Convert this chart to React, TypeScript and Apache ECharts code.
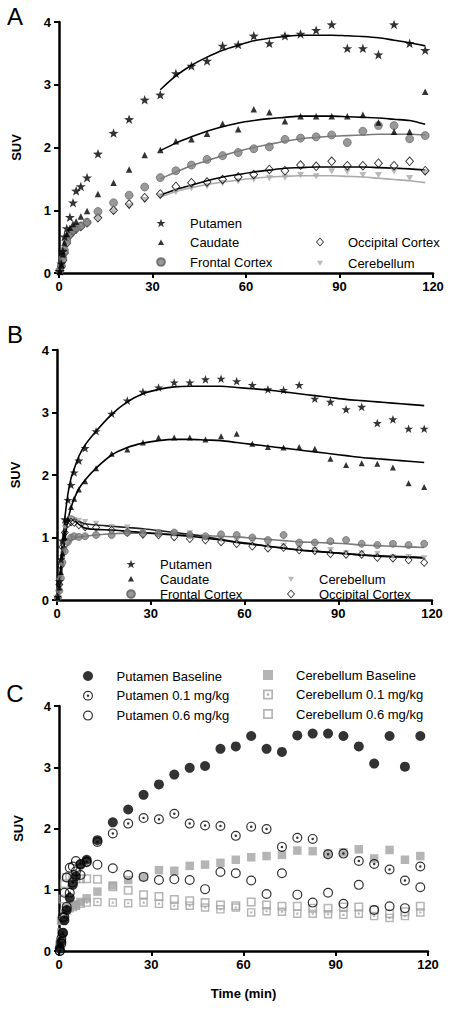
import React, { useEffect, useRef } from 'react';
import * as echarts from 'echarts';

// ---------- data ----------
const timeMin = [0.25, 0.75, 1.25, 1.75, 2.5, 3.5, 4.5, 5.5, 7, 9, 12.5, 17.5, 22.5, 27.5, 32.5, 37.5, 42.5, 47.5, 52.5, 57.5, 62.5, 67.5, 72.5, 77.5, 82.5, 87.5, 92.5, 97.5, 102.5, 107.5, 112.5, 117.5];
const fitTimeA = [32.5, 37.5, 42.5, 47.5, 52.5, 57.5, 62.5, 67.5, 72.5, 77.5, 82.5, 87.5, 92.5, 97.5, 102.5, 107.5, 112.5, 117.5];
const xTicks = [0, 30, 60, 90, 120];
const yTicks = [0, 1, 2, 3, 4];

// Panel A
const putamenA = [0.03, 0.15, 0.35, 0.58, 0.71, 0.89, 1.12, 1.31, 1.38, 1.52, 1.90, 2.23, 2.45, 2.76, 2.84, 3.18, 3.30, 3.38, 3.62, 3.64, 3.78, 3.66, 3.78, 3.81, 3.87, 3.96, 3.58, 3.58, 3.48, 3.96, 3.66, 3.55];
const caudateA = [0.02, 0.12, 0.30, 0.48, 0.62, 0.72, 0.78, 0.82, 0.90, 0.99, 1.26, 1.44, 1.65, 1.88, 1.96, 2.10, 2.13, 2.22, 2.38, 2.29, 2.61, 2.56, 2.42, 2.50, 2.50, 2.50, 2.50, 2.52, 2.40, 2.25, 2.25, 2.89];
const frontalA = [0.04, 0.12, 0.23, 0.36, 0.52, 0.63, 0.68, 0.72, 0.75, 0.81, 0.98, 1.12, 1.24, 1.37, 1.52, 1.63, 1.72, 1.81, 1.87, 1.92, 1.98, 2.01, 2.13, 2.15, 2.17, 2.20, 2.08, 2.26, 2.35, 2.35, 2.14, 2.19];
const occipitalA = [0.03, 0.10, 0.20, 0.32, 0.48, 0.60, 0.66, 0.70, 0.74, 0.80, 0.88, 1.00, 1.10, 1.20, 1.26, 1.38, 1.44, 1.45, 1.49, 1.53, 1.57, 1.65, 1.63, 1.72, 1.70, 1.78, 1.71, 1.71, 1.75, 1.71, 1.78, 1.63];
const cerebellumA = [0.03, 0.10, 0.22, 0.35, 0.50, 0.60, 0.65, 0.68, 0.72, 0.78, 0.86, 0.98, 1.06, 1.16, 1.22, 1.29, 1.35, 1.38, 1.43, 1.46, 1.49, 1.51, 1.52, 1.56, 1.54, 1.62, 1.61, 1.56, 1.56, 1.62, 1.51, 1.60];
const putamenFitA = [2.92, 3.14, 3.31, 3.44, 3.55, 3.63, 3.70, 3.74, 3.77, 3.79, 3.79, 3.79, 3.78, 3.77, 3.75, 3.71, 3.67, 3.62];
const caudateFitA = [1.95, 2.07, 2.17, 2.26, 2.33, 2.39, 2.43, 2.46, 2.48, 2.50, 2.50, 2.50, 2.49, 2.48, 2.47, 2.45, 2.43, 2.37];
const frontalFitA = [1.50, 1.61, 1.71, 1.79, 1.87, 1.94, 2.00, 2.05, 2.10, 2.14, 2.16, 2.18, 2.19, 2.20, 2.21, 2.21, 2.21, 2.20];
const occipitalFitA = [1.24, 1.33, 1.40, 1.47, 1.53, 1.57, 1.61, 1.64, 1.67, 1.68, 1.69, 1.69, 1.69, 1.69, 1.68, 1.67, 1.66, 1.64];
const cerebellumFitA = [1.21, 1.30, 1.36, 1.41, 1.45, 1.48, 1.51, 1.53, 1.54, 1.55, 1.55, 1.55, 1.54, 1.53, 1.51, 1.49, 1.47, 1.44];

// Panel B
const putamenB = [0.05, 0.30, 0.65, 0.95, 1.29, 1.60, 1.84, 2.04, 2.23, 2.43, 2.70, 2.98, 3.19, 3.33, 3.40, 3.48, 3.48, 3.53, 3.54, 3.50, 3.44, 3.37, 3.36, 3.44, 3.22, 3.17, 3.05, 3.09, 2.83, 2.89, 2.74, 2.74];
const caudateB = [0.04, 0.20, 0.45, 0.75, 1.00, 1.30, 1.49, 1.62, 1.77, 1.90, 2.11, 2.34, 2.41, 2.52, 2.60, 2.60, 2.60, 2.57, 2.62, 2.66, 2.50, 2.45, 2.44, 2.45, 2.42, 2.26, 2.16, 2.19, 2.18, 2.12, 1.87, 1.81];
const frontalB = [0.03, 0.15, 0.35, 0.60, 0.78, 0.93, 1.00, 1.02, 1.01, 1.02, 1.04, 1.04, 1.08, 1.07, 1.07, 1.08, 1.04, 1.02, 1.05, 1.04, 1.00, 0.96, 1.04, 0.92, 0.92, 0.94, 0.96, 0.90, 0.88, 0.90, 0.88, 0.90];
const cerebellumB = [0.05, 0.30, 0.60, 0.90, 1.15, 1.28, 1.30, 1.28, 1.27, 1.25, 1.22, 1.17, 1.16, 1.09, 1.09, 1.07, 1.07, 0.99, 0.96, 0.95, 0.92, 0.86, 0.87, 0.83, 0.80, 0.80, 0.75, 0.75, 0.74, 0.69, 0.69, 0.67];
const occipitalB = [0.04, 0.25, 0.55, 0.85, 1.08, 1.22, 1.25, 1.24, 1.20, 1.17, 1.16, 1.12, 1.08, 1.05, 1.04, 1.01, 0.98, 0.96, 0.93, 0.90, 0.86, 0.83, 0.84, 0.80, 0.79, 0.74, 0.73, 0.73, 0.68, 0.67, 0.64, 0.60];
const putamenFitB = [0.03, 0.20, 0.50, 0.85, 1.30, 1.70, 1.95, 2.10, 2.30, 2.48, 2.70, 2.97, 3.17, 3.30, 3.37, 3.41, 3.42, 3.42, 3.42, 3.40, 3.38, 3.36, 3.33, 3.30, 3.27, 3.24, 3.21, 3.19, 3.17, 3.15, 3.13, 3.11];
const caudateFitB = [0.02, 0.15, 0.35, 0.60, 0.95, 1.28, 1.48, 1.62, 1.78, 1.92, 2.11, 2.32, 2.44, 2.51, 2.55, 2.57, 2.57, 2.56, 2.55, 2.52, 2.49, 2.46, 2.43, 2.40, 2.37, 2.34, 2.31, 2.28, 2.26, 2.24, 2.22, 2.20];
const cerebellumFitB = [0.04, 0.25, 0.60, 0.95, 1.20, 1.32, 1.34, 1.32, 1.26, 1.22, 1.20, 1.18, 1.16, 1.14, 1.11, 1.08, 1.05, 1.01, 0.97, 0.93, 0.90, 0.86, 0.83, 0.80, 0.78, 0.76, 0.74, 0.72, 0.70, 0.69, 0.68, 0.67];
const occipitalFitB = [0.03, 0.20, 0.50, 0.85, 1.10, 1.24, 1.28, 1.27, 1.21, 1.15, 1.13, 1.12, 1.10, 1.08, 1.06, 1.04, 1.02, 0.99, 0.96, 0.92, 0.89, 0.86, 0.83, 0.80, 0.78, 0.76, 0.74, 0.72, 0.71, 0.70, 0.69, 0.68];
const frontalFitB = [0.03, 0.15, 0.35, 0.55, 0.75, 0.90, 0.96, 0.99, 1.01, 1.02, 1.04, 1.06, 1.07, 1.07, 1.06, 1.05, 1.04, 1.03, 1.02, 1.01, 0.99, 0.97, 0.95, 0.93, 0.92, 0.91, 0.90, 0.88, 0.87, 0.86, 0.85, 0.84];

// Panel C
const putamenBaseline = [0.04, 0.15, 0.29, 0.50, 0.67, 0.87, 1.08, 1.22, 1.41, 1.49, 1.81, 2.10, 2.31, 2.55, 2.72, 2.88, 2.99, 3.02, 3.30, 3.34, 3.51, 3.30, 3.25, 3.52, 3.55, 3.55, 3.51, 3.34, 3.06, 3.51, 3.01, 3.51];
const putamen01 = [0.00, 0.12, 0.30, 0.55, 0.72, 0.95, 1.12, 1.30, 1.42, 1.46, 1.78, 1.92, 2.08, 2.17, 2.15, 2.24, 2.08, 2.05, 2.04, 1.88, 2.03, 1.99, 1.70, 1.85, 1.83, 1.58, 1.59, 1.47, 1.42, 1.33, 1.15, 1.38];
const putamen06 = [0.00, 0.20, 0.55, 0.95, 1.20, 1.36, 1.38, 1.47, 1.24, 1.45, 1.41, 1.35, 1.24, 1.21, 1.16, 1.17, 1.16, 1.01, 1.29, 1.27, 1.15, 0.93, 1.27, 0.92, 0.79, 0.95, 0.77, 1.08, 0.67, 0.73, 0.70, 1.04];
const cerebellumBaseline = [0.05, 0.30, 0.50, 0.62, 0.70, 0.74, 0.76, 0.75, 0.80, 0.86, 0.97, 1.07, 1.16, 1.21, 1.32, 1.31, 1.39, 1.41, 1.44, 1.49, 1.53, 1.55, 1.57, 1.64, 1.63, 1.59, 1.61, 1.66, 1.51, 1.65, 1.49, 1.55];
const cerebellum01 = [0.05, 0.30, 0.50, 0.60, 0.66, 0.70, 0.72, 0.74, 0.77, 0.79, 0.80, 0.79, 0.78, 0.79, 0.77, 0.74, 0.74, 0.71, 0.68, 0.71, 0.63, 0.65, 0.64, 0.61, 0.61, 0.60, 0.59, 0.61, 0.57, 0.54, 0.57, 0.63];
const cerebellum06 = [0.10, 0.50, 0.85, 1.10, 1.20, 1.22, 1.20, 1.18, 1.18, 1.18, 1.17, 1.05, 0.99, 0.92, 0.89, 0.84, 0.82, 0.79, 0.75, 0.74, 0.80, 0.75, 0.73, 0.73, 0.70, 0.70, 0.72, 0.72, 0.67, 0.61, 0.64, 0.73];

// ---------- styling ----------
const FONT = "'Liberation Sans', Arial, Helvetica, sans-serif";
const STAR = 'path://M0,-10 L2.35,-3.24 L9.51,-3.09 L3.8,1.24 L5.88,8.09 L0,4 L-5.88,8.09 L-3.8,1.24 L-9.51,-3.09 L-2.35,-3.24 Z';
const DOWN_TRI = 'path://M0,0 L10,0 L5,9 Z';
const DIAMOND = 'path://M0,-10 L9,0 L0,10 L-9,0 Z M0,-7.2 L-6.5,0 L0,7.2 L6.5,0 Z';
// legend icons padded by zero-area corner points so they render smaller inside the legend box
const TRI_ICON = 'path://M-5,-5 L-5,-5 M5,5 L5,5 M0,-3.2 L3.4,2.8 L-3.4,2.8 Z';
const DOWN_TRI_ICON = 'path://M-5,-5 L-5,-5 M5,5 L5,5 M-3.4,-2.6 L3.4,-2.6 L0,3.4 Z';
const CIRCLE_ICON = 'path://M-5,-5 L-5,-5 M5,5 L5,5 M0,-4.3 A4.3,4.3 0 1,1 0,4.3 A4.3,4.3 0 1,1 0,-4.3 Z';
const RING = 'path://M0,-10 A10,10 0 1,1 0,10 A10,10 0 1,1 0,-10 Z M0,-7.6 A7.6,7.6 0 1,0 0,7.6 A7.6,7.6 0 1,0 0,-7.6 Z';
const RING_DOT = RING + ' M0,-2.5 A2.5,2.5 0 1,1 0,2.5 A2.5,2.5 0 1,1 0,-2.5 Z';
const SQ = 'path://M0,0 L20,0 L20,20 L0,20 Z M3.4,3.4 L3.4,16.6 L16.6,16.6 L16.6,3.4 Z';
const SQ_DOT = SQ + ' M7.6,7.6 L12.4,7.6 L12.4,12.4 L7.6,12.4 Z';

const pairs = (t: number[], v: number[]) => t.map((x, i) => [x, v[i]]);

function axes(gi: number, yGap: number, xName?: string) {
  const label = { color: '#000', fontWeight: 'bold' as const, fontSize: 13, fontFamily: FONT };
  const line = { show: true, onZero: false, lineStyle: { color: '#000', width: 2.5 } };
  const tick = { show: true, length: 5, lineStyle: { color: '#000', width: 2 } };
  return {
    x: {
      type: 'value', gridIndex: gi, min: xTicks[0], max: xTicks[xTicks.length - 1], interval: xTicks[1] - xTicks[0],
      axisLine: line, axisTick: tick, splitLine: { show: false },
      axisLabel: { ...label, margin: 7 },
      name: xName || '', nameLocation: 'middle', nameGap: 36,
      nameTextStyle: { color: '#000', fontWeight: 'bold', fontSize: 13, fontFamily: FONT },
    },
    y: {
      type: 'value', gridIndex: gi, min: yTicks[0], max: yTicks[yTicks.length - 1], interval: yTicks[1] - yTicks[0],
      axisLine: line, axisTick: tick, splitLine: { show: false },
      axisLabel: { ...label, margin: 8 },
      name: 'SUV', nameLocation: 'middle', nameGap: yGap,
      nameTextStyle: { color: '#000', fontWeight: 'bold', fontSize: 13, fontFamily: FONT },
    },
  };
}

function scatter(name: string, gi: number, v: number[], symbol: string, size: any, itemStyle: any) {
  return {
    type: 'scatter', name, xAxisIndex: gi, yAxisIndex: gi, data: pairs(timeMin, v),
    symbol, symbolSize: size, symbolKeepAspect: true, itemStyle, z: 3, silent: true,
  };
}

function fit(name: string, gi: number, t: number[], v: number[], color: string, width = 1.6) {
  return {
    type: 'line', name, xAxisIndex: gi, yAxisIndex: gi, data: pairs(t, v),
    showSymbol: false, symbol: 'none', smooth: 0.3, silent: true, z: 2,
    lineStyle: { color, width },
  };
}

function legend(data: any[], left: number, top: number, gap: number, pad: number, size: number) {
  return {
    orient: 'vertical', left, top, itemGap: gap, itemWidth: size, itemHeight: size,
    selectedMode: false, data,
    textStyle: { color: '#000', fontSize: 13, fontFamily: FONT, lineHeight: 14, padding: [0, 0, 0, pad] },
  };
}

const BLACK = { color: '#000' };
const FRONTAL = { color: '#808080', borderColor: '#5e5e5e', borderWidth: 0.8 };
const CEREB = { color: '#a9a9a9' };
const GRAY_C = { color: '#a3a3a3' };

const legPut = { name: 'Putamen', icon: STAR };
const legCau = { name: 'Caudate', icon: TRI_ICON };
const legFro = { name: 'Frontal Cortex', icon: CIRCLE_ICON };
const legOcc = { name: 'Occipital Cortex', icon: DIAMOND };
const legCer = { name: 'Cerebellum', icon: DOWN_TRI_ICON };

export default function App() {
  const ref = useRef<HTMLDivElement>(null);
  useEffect(() => {
    if (!ref.current) return;
    const chart = echarts.init(ref.current, null, { renderer: 'svg' });
    const a = axes(0, 36), b = axes(1, 35), c = axes(2, 34, 'Time (min)');
    const option: any = {
      animation: false,
      backgroundColor: '#fff',
      textStyle: { fontFamily: FONT },
      grid: [
        { left: 59, top: 22, width: 374, height: 251, containLabel: false, outerBoundsMode: 'none' },
        { left: 57, top: 350, width: 375, height: 250, containLabel: false, outerBoundsMode: 'none' },
        { left: 59, top: 706, width: 369, height: 245, containLabel: false, outerBoundsMode: 'none' },
      ],
      xAxis: [a.x, b.x, c.x],
      yAxis: [a.y, b.y, c.y],
      legend: [
        legend([legPut, legCau, legFro], 150.5, 211, 5.5, 19.5, 9),
        legend([legOcc, legCer], 310.5, 230, 7, 18.5, 9),
        legend([legPut, legCau, legFro], 120.5, 552, 1, 19.5, 9),
        legend([legCer, legOcc], 281.5, 567, 1, 18.5, 9),
        legend(['Putamen Baseline', 'Putamen 0.1 mg/kg', 'Putamen 0.6 mg/kg'], 78, 664, 5.8, 18.5, 10),
        legend(['Cerebellum Baseline', 'Cerebellum 0.1 mg/kg', 'Cerebellum 0.6 mg/kg'], 258, 663, 5.5, 18, 10),
      ],
      graphic: [
        { type: 'text', x: 15, y: 16, style: { text: 'A', fontSize: 24, fontFamily: FONT, fill: '#000', align: 'center', verticalAlign: 'middle' } },
        { type: 'text', x: 15, y: 334, style: { text: 'B', fontSize: 24, fontFamily: FONT, fill: '#000', align: 'center', verticalAlign: 'middle' } },
        { type: 'text', x: 15, y: 693, style: { text: 'C', fontSize: 24, fontFamily: FONT, fill: '#000', align: 'center', verticalAlign: 'middle' } },
      ],
      series: [
        // Panel A fits
        fit('Putamen fit A', 0, fitTimeA, putamenFitA, '#000'),
        fit('Caudate fit A', 0, fitTimeA, caudateFitA, '#000'),
        fit('Frontal Cortex fit A', 0, fitTimeA, frontalFitA, '#7a7a7a'),
        fit('Occipital Cortex fit A', 0, fitTimeA, occipitalFitA, '#000'),
        fit('Cerebellum fit A', 0, fitTimeA, cerebellumFitA, '#aaaaaa'),
        // Panel A points
        scatter('Cerebellum', 0, cerebellumA, DOWN_TRI, 7, CEREB),
        scatter('Occipital Cortex', 0, occipitalA, DIAMOND, 10, BLACK),
        scatter('Frontal Cortex', 0, frontalA, 'circle', 8, FRONTAL),
        scatter('Caudate', 0, caudateA, 'triangle', 6.5, BLACK),
        scatter('Putamen', 0, putamenA, STAR, 10, BLACK),
        // Panel B fits
        fit('Putamen fit B', 1, timeMin, putamenFitB, '#000'),
        fit('Caudate fit B', 1, timeMin, caudateFitB, '#000'),
        fit('Frontal Cortex fit B', 1, timeMin, frontalFitB, '#7a7a7a'),
        fit('Cerebellum fit B', 1, timeMin, cerebellumFitB, '#222'),
        fit('Occipital Cortex fit B', 1, timeMin, occipitalFitB, '#000'),
        // Panel B points
        scatter('Cerebellum', 1, cerebellumB, DOWN_TRI, 6.5, CEREB),
        scatter('Occipital Cortex', 1, occipitalB, DIAMOND, 9, BLACK),
        scatter('Frontal Cortex', 1, frontalB, 'circle', 7, FRONTAL),
        scatter('Caudate', 1, caudateB, 'triangle', 6, BLACK),
        scatter('Putamen', 1, putamenB, STAR, 9, BLACK),
        // Panel C points
        scatter('Cerebellum 0.6 mg/kg', 2, cerebellum06, SQ, 9, GRAY_C),
        scatter('Cerebellum 0.1 mg/kg', 2, cerebellum01, SQ_DOT, 8.5, GRAY_C),
        scatter('Cerebellum Baseline', 2, cerebellumBaseline, 'rect', 8.5, GRAY_C),
        scatter('Putamen 0.6 mg/kg', 2, putamen06, RING, 10, BLACK),
        scatter('Putamen 0.1 mg/kg', 2, putamen01, RING_DOT, 10, BLACK),
        scatter('Putamen Baseline', 2, putamenBaseline, 'circle', 10, BLACK),
      ],
    };
    chart.setOption(option);
    return () => chart.dispose();
  }, []);
  return (
    <div
      ref={ref}
      style={{ position: 'fixed', left: 0, top: 0, width: 450, height: 1010, background: '#fff' }}
    />
  );
}
